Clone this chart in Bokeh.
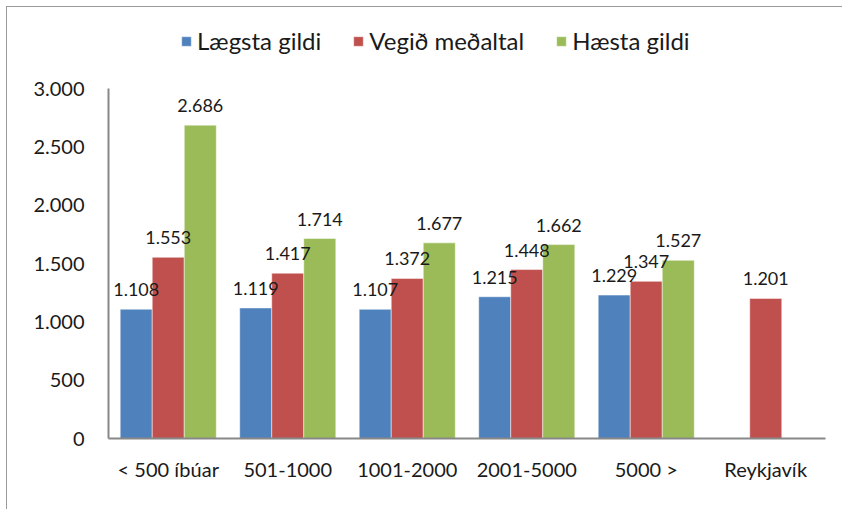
from bokeh.plotting import figure
from bokeh.models import (ColumnDataSource, Range1d, FixedTicker, CustomJSTickFormatter,
                          Legend, LegendItem)
from bokeh.transform import dodge
from bokeh.core.properties import value
from bokeh.embed import file_html
from bokeh.resources import INLINE

categories = ["< 500 íbúar", "501-1000", "1001-2000", "2001-5000", "5000 >", "Reykjavík"]
laegsta = [1108, 1119, 1107, 1215, 1229, None]
vegid = [1553, 1417, 1372, 1448, 1347, 1201]
haesta = [2686, 1714, 1677, 1662, 1527, None]
series_names = ["Lægsta gildi", "Vegið meðaltal", "Hæsta gildi"]
colors = ["#4F81BD", "#C0504D", "#9BBB59"]
y_ticks = [0, 500, 1000, 1500, 2000, 2500, 3000]

FONT = "Lato"

p = figure(x_range=categories, y_range=Range1d(0, 3583), width=836, height=503,
           output_backend="svg", toolbar_location=None,
           min_border_left=101, min_border_right=18, min_border_top=13, min_border_bottom=72)
p.styles = {"border-left": "1px solid #9a9a9a", "border-top": "1px solid #9a9a9a",
            "margin-left": "6px", "margin-top": "6px"}
p.outline_line_color = None
p.grid.visible = False
p.background_fill_color = "white"

bw = 0.268
offsets = [-bw, 0.0, bw]
renderers = []
sources = []
for name, vals, col, off in zip(series_names, [laegsta, vegid, haesta], colors, offsets):
    cats = [c for c, v in zip(categories, vals) if v is not None]
    vs = [v for v in vals if v is not None]
    labels = [f"{v:,}".replace(",", ".") for v in vs]
    src = ColumnDataSource(dict(cat=cats, val=vs, lab=labels))
    sources.append((src, off))
    r = p.vbar(x=dodge("cat", off, range=p.x_range), top="val", width=bw, source=src,
               fill_color=col, line_color="white", line_alpha=0.6, line_width=0.8)
    renderers.append(r)

for src, off in sources:
    p.text(x=dodge("cat", off, range=p.x_range), y="val", text="lab", source=src,
           text_align="center", text_baseline="bottom", y_offset=-13,
           text_font=value(FONT), text_font_size="18px", text_color="#1a1a1a")

p.yaxis.bounds = (0, 3000)
p.yaxis.ticker = FixedTicker(ticks=y_ticks)
p.yaxis.formatter = CustomJSTickFormatter(code="""
    return tick.toString().replace(/\\B(?=(\\d{3})+(?!\\d))/g, ".");
""")
for ax in [p.xaxis[0], p.yaxis[0]]:
    ax.axis_line_color = "#888888"
    ax.axis_line_width = 2
    ax.major_tick_line_color = None
    ax.minor_tick_line_color = None
    ax.major_label_text_font = FONT
    ax.major_label_text_font_size = "20px"
    ax.major_label_text_color = "#1a1a1a"
p.yaxis.major_label_standoff = 18
p.xaxis.major_label_standoff = 12

legend = Legend(items=[LegendItem(label=n, renderers=[r]) for n, r in zip(series_names, renderers)],
                location=(72, 383), orientation="horizontal",
                label_text_font=FONT, label_text_font_size="24px", label_text_color="#1a1a1a",
                glyph_width=12, glyph_height=12, label_standoff=5, spacing=31,
                border_line_color=None, background_fill_alpha=0, margin=0, padding=0)
p.add_layout(legend, "center")

open("out.html", "w").write(file_html(p, INLINE))
